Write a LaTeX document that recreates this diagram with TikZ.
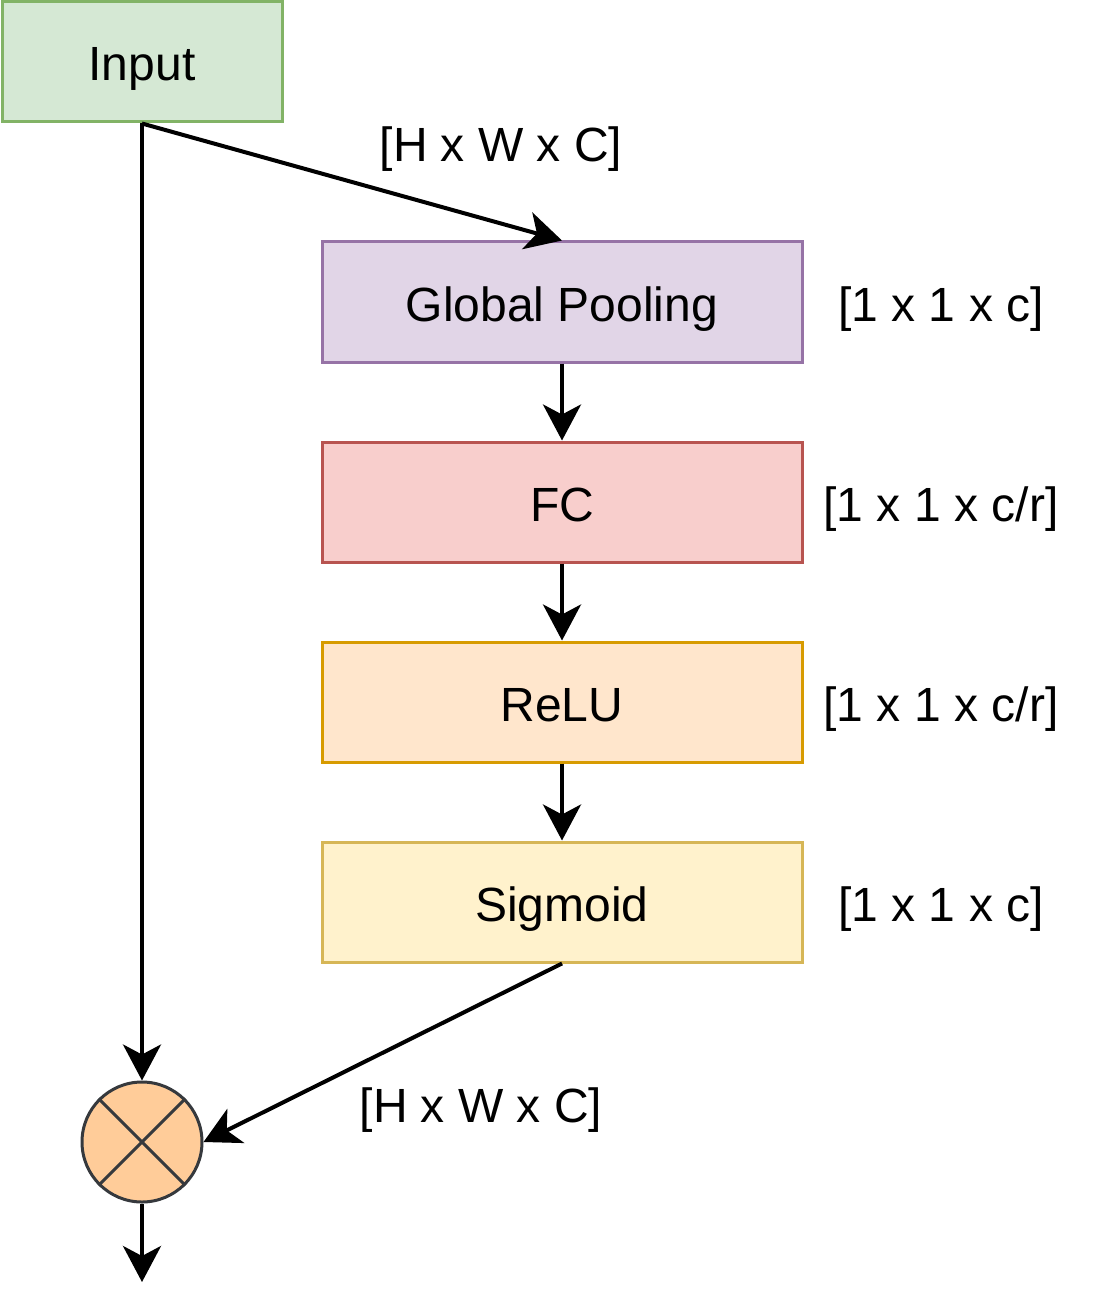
\documentclass[tikz,border=0pt]{standalone}
\usepackage{fontspec}
\setmainfont{Liberation Sans}
\usetikzlibrary{arrows.meta}
\definecolor{gfill}{HTML}{D5E8D4}\definecolor{gdraw}{HTML}{82B366}
\definecolor{pfill}{HTML}{E1D5E7}\definecolor{pdraw}{HTML}{9673A6}
\definecolor{rfill}{HTML}{F8CECC}\definecolor{rdraw}{HTML}{B85450}
\definecolor{ofill}{HTML}{FFE6CC}\definecolor{odraw}{HTML}{D79B00}
\definecolor{yfill}{HTML}{FFF2CC}\definecolor{ydraw}{HTML}{D6B656}
\definecolor{cfill}{HTML}{FFCC99}\definecolor{cdraw}{HTML}{36393D}
\begin{document}
\begin{tikzpicture}[x=0.5pt,y=-0.5pt,
  every node/.style={font=\fontsize{24}{28}\selectfont, text height=19pt, text depth=0pt},
  box/.style={draw, line width=1.5pt, minimum height=60pt, inner sep=0pt},
  wide/.style={box, minimum width=240pt},
  lbl/.style={inner sep=0pt},
  conn/.style={line width=2pt, -{Stealth[length=18pt,width=19pt,inset=5pt]}}]
\useasboundingbox (0,0) rectangle (1104,1316);
\node[box, minimum width=140pt, fill=gfill, draw=gdraw] (in) at (142,62) {Input};
\node[wide, fill=pfill, draw=pdraw] (gp) at (562,302) {Global Pooling};
\node[wide, fill=rfill, draw=rdraw] (fc) at (562,502) {FC};
\node[wide, fill=ofill, draw=odraw] (relu) at (562,702) {ReLU};
\node[wide, fill=yfill, draw=ydraw] (sig) at (562,902) {Sigmoid};
\node[circle, draw=cdraw, fill=cfill, line width=1.5pt, minimum size=60pt, inner sep=0pt, text height=0pt] (mul) at (142,1142) {};
\draw[cdraw, line width=1.5pt] (mul.north west) -- (mul.south east) (mul.north east) -- (mul.south west);
\coordinate (out) at (142,1282);
\node[lbl] (l1) at (501,143) {[H x W x C]};
\node[lbl] (l2) at (941,302) {[1 x 1 x c]};
\node[lbl] (l3) at (941,502) {[1 x 1 x c/r]};
\node[lbl] (l4) at (941,702) {[1 x 1 x c/r]};
\node[lbl] (l5) at (941,902) {[1 x 1 x c]};
\node[lbl] (l6) at (481,1103) {[H x W x C]};
\draw[conn] (in.south) -- (gp.north);
\draw[conn] (in.south) -- (mul.north);
\draw[conn] (gp) -- (fc);
\draw[conn] (fc) -- (relu);
\draw[conn] (relu) -- (sig);
\draw[conn] (sig.south) -- (mul.east);
\draw[conn] (mul.south) -- (out);
\end{tikzpicture}
\end{document}
